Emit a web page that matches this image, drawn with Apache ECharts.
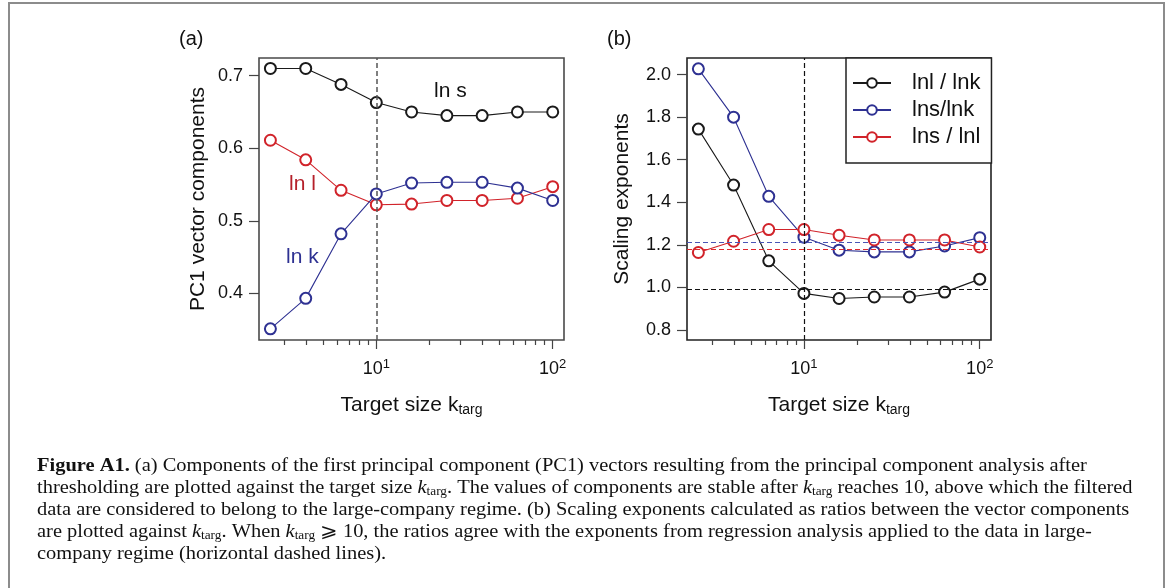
<!DOCTYPE html>
<html>
<head>
<meta charset="utf-8">
<script src="https://cdn.jsdelivr.net/npm/echarts@6/dist/echarts.min.js"></script>
<style>
html,body{margin:0;padding:0;background:#fff;}
#chart{width:1168px;height:588px;}
</style>
</head>
<body>
<div id="chart"></div>
<script>
// ---- data ----
const kTarg = [2.51, 3.98, 6.31, 10, 15.85, 25.12, 39.81, 63.10, 100];
const lnS = [0.710, 0.710, 0.688, 0.663, 0.650, 0.645, 0.645, 0.650, 0.650];
const lnL = [0.611, 0.584, 0.542, 0.522, 0.523, 0.528, 0.528, 0.531, 0.547];
const lnK = [0.351, 0.393, 0.482, 0.537, 0.552, 0.553, 0.553, 0.545, 0.528];
const ratioLK = [1.744, 1.481, 1.125, 0.972, 0.948, 0.955, 0.955, 0.978, 1.039];
const ratioSK = [2.027, 1.800, 1.428, 1.236, 1.175, 1.167, 1.167, 1.195, 1.234];
const ratioSL = [1.164, 1.217, 1.272, 1.272, 1.245, 1.223, 1.223, 1.223, 1.190];
const regressionExp = [0.992, 1.206, 1.175]; // lnl/lnk, lns/lnk, lns/lnl
const kThreshold = 10;
const leftYTicks = [0.4, 0.5, 0.6, 0.7];
const rightYTicks = [0.8, 1.0, 1.2, 1.4, 1.6, 1.8, 2.0];
const xMajorTicks = [10, 100];
const xMinorTicks = [3, 4, 5, 6, 7, 8, 9, 20, 30, 40, 50, 60, 70, 80, 90];
const legendNames = ['lnl / lnk', 'lns/lnk', 'lns / lnl'];

// ---- style ----
const FONT = "'Liberation Sans', Arial, Helvetica, sans-serif";
const SERIF = "'Liberation Serif', 'Times New Roman', serif";
const BLACK = '#1a1a1a', BLUE = '#2e3192', RED = '#d1232a';

const lg = v => Math.log10(v);
const XMIN = 0.335, XMAX = 2.064;

function xAxes(grid) {
  return [
    { type:'value', gridIndex:grid, position:'bottom', min:XMIN, max:XMAX,
      axisLine:{show:false}, splitLine:{show:false},
      axisTick:{show:true, customValues:xMajorTicks.map(lg), length:9, lineStyle:{color:'#444', width:1.2}},
      axisLabel:{show:true, customValues:xMajorTicks.map(lg), margin:18, fontSize:18, fontFamily:FONT, color:'#111',
        formatter: v => '10{p|' + Math.round(v) + '}',
        rich:{p:{fontSize:13, fontFamily:FONT, color:'#111', padding:[0,0,9,0]}}},
      name:'Target size k{s|targ}', nameLocation:'middle', nameGap:55,
      nameTextStyle:{fontSize:21, fontFamily:FONT, color:'#111',
        rich:{s:{fontSize:14, fontFamily:FONT, color:'#111', lineHeight:14, padding:[10,0,0,0]}}}
    },
    { type:'value', gridIndex:grid, position:'bottom', min:XMIN, max:XMAX,
      axisLine:{show:false}, splitLine:{show:false}, axisLabel:{show:false},
      axisTick:{show:true, customValues:xMinorTicks.map(lg), length:5, lineStyle:{color:'#444', width:1.2}}
    }
  ];
}

function yAxis(grid, min, max, ticks, name, gap) {
  return { type:'value', gridIndex:grid, min, max,
    axisLine:{show:false}, splitLine:{show:false},
    axisTick:{show:true, customValues:ticks, length:10, lineStyle:{color:'#444', width:1.2}},
    axisLabel:{show:true, customValues:ticks, margin:16, fontSize:18, fontFamily:FONT, color:'#111',
      formatter: v => v.toFixed(1)},
    name, nameLocation:'middle', nameRotate:90, nameGap:gap,
    nameTextStyle:{fontSize:21, fontFamily:FONT, color:'#111'}
  };
}

function ser(name, vals, color, xi, yi, markLine) {
  const s = { type:'line', name, xAxisIndex:xi, yAxisIndex:yi,
    data: kTarg.map((k, i) => [lg(k), vals[i]]),
    symbol:'emptyCircle', symbolSize:11, showSymbol:true,
    lineStyle:{color, width:1.1}, itemStyle:{color, borderColor:color, borderWidth:1.1},
    emphasis:{disabled:true}, animation:false, z:3 };
  if (markLine) s.markLine = Object.assign({silent:true, symbol:['none','none'], label:{show:false}, animation:false}, markLine);
  return s;
}
const dashed = (color, value, axis, w) => ({ [axis]: value, lineStyle:{type:[5,3], color, width:w||1.2} });

const option = {
  backgroundColor:'#fff',
  animation:false,
  grid:[
    {left:259, top:58, width:305, height:282, show:true, borderColor:'#4a4a4a', borderWidth:1.6, backgroundColor:'transparent'},
    {left:687, top:58, width:304, height:282, show:true, borderColor:'#222', borderWidth:1.6, backgroundColor:'transparent'}
  ],
  xAxis:[...xAxes(0), ...xAxes(1)],
  yAxis:[
    yAxis(0, 0.3356, 0.7244, leftYTicks, 'PC1 vector components', 50),
    yAxis(1, 0.753, 2.078, rightYTicks, 'Scaling exponents', 54)
  ],
  legend:{
    data:legendNames, orient:'vertical', left:846, top:58,
    itemWidth:38, itemHeight:12, itemGap:5, padding:[14, 11, 15, 6],
    backgroundColor:'#fff', borderColor:'#222', borderWidth:1.5, borderRadius:0,
    selectedMode:false,
    textStyle:{fontSize:22, fontFamily:FONT, color:'#111', padding:[0,0,0,16]}
  },
  series:[
    ser('ln s', lnS, BLACK, 0, 0, {data:[dashed('#555', lg(kThreshold), 'xAxis', 1.5)]}),
    ser('ln l', lnL, RED, 0, 0),
    ser('ln k', lnK, BLUE, 0, 0),
    ser(legendNames[0], ratioLK, BLACK, 2, 1, {data:[dashed('#111', lg(kThreshold), 'xAxis', 1.2), dashed('#111', regressionExp[0], 'yAxis', 1.2)]}),
    ser(legendNames[1], ratioSK, BLUE, 2, 1, {data:[dashed('#4a55b5', regressionExp[1], 'yAxis', 1.2)]}),
    ser(legendNames[2], ratioSL, RED, 2, 1, {data:[dashed('#e0262c', regressionExp[2], 'yAxis', 1.2)]})
  ],
  graphic:[]
};

// frame
option.graphic.push({type:'rect', shape:{x:9, y:3, width:1155, height:700}, style:{fill:'none', stroke:'#8c8c8c', lineWidth:2}, silent:true});
// panel labels & series labels
const txt = (x, y, text, color, size) => ({type:'text', x, y, silent:true,
  style:{text, fill:color, fontSize:size, fontFamily:FONT, verticalAlign:'middle', align:'left'}});
option.graphic.push(txt(179, 39, '(a)', '#111', 20));
option.graphic.push(txt(607, 39, '(b)', '#111', 20));
option.graphic.push(txt(434, 91, 'ln s', '#111', 21));
option.graphic.push(txt(289, 184, 'ln l', '#b5202a', 21));
option.graphic.push(txt(286, 257, 'ln k', BLUE, 21));

// caption
const capLines = [
  '{b|Figure A1.} (a) Components of the first principal component (PC1) vectors resulting from the principal component analysis after',
  'thresholding are plotted against the target size {i|k}{s|targ}. The values of components are stable after {i|k}{s|targ} reaches 10, above which the filtered',
  'data are considered to belong to the large-company regime. (b) Scaling exponents calculated as ratios between the vector components',
  'are plotted against {i|k}{s|targ}. When {i|k}{s|targ} \u2a7e 10, the ratios agree with the exponents from regression analysis applied to the data in large-',
  'company regime (horizontal dashed lines).'
];
const CAPSIZE = 18.5;
capLines.forEach((t, i) => {
  option.graphic.push({type:'text', x:37, y:466 + 22*i, scaleX:1.105, silent:true,
    style:{text:t, fontSize:CAPSIZE, fontFamily:SERIF, fill:'#111', verticalAlign:'middle', align:'left',
      rich:{
        b:{fontWeight:'bold', fontSize:CAPSIZE, fontFamily:SERIF, fill:'#111'},
        i:{fontStyle:'italic', fontSize:CAPSIZE, fontFamily:SERIF, fill:'#111'},
        s:{fontSize:12, fontFamily:SERIF, fill:'#111', lineHeight:12, padding:[8,0,0,0]}
      }}});
});

const chart = echarts.init(document.getElementById('chart'), null, {renderer:'canvas'});
chart.setOption(option);
</script>
</body>
</html>
